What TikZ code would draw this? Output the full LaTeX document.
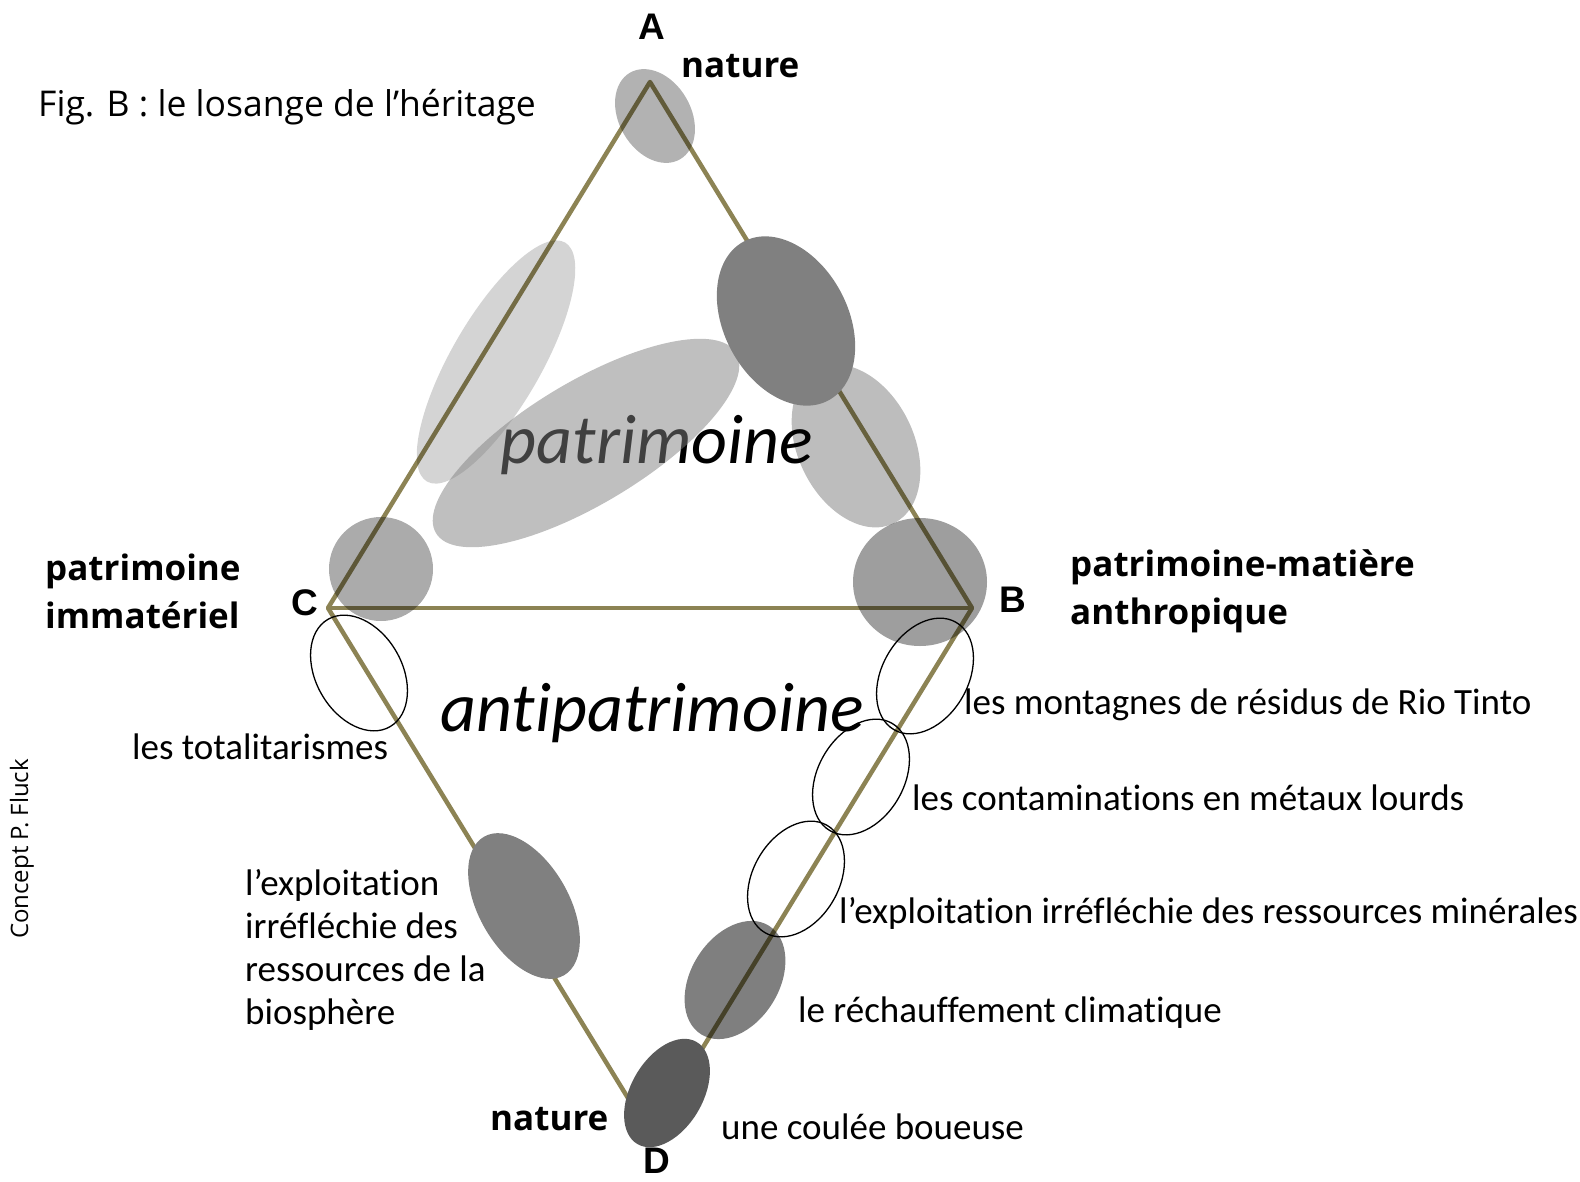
\documentclass[tikz,border=0pt]{standalone}
\usepackage{fontspec}
\setmainfont{Carlito}[Ligatures={NoCommon}]
\newfontfamily\captionfont{Open Sans}
\newfontfamily\cornerfont{Liberation Sans}
\usetikzlibrary{positioning}
\definecolor{Olive}{HTML}{8C8354}
\definecolor{Shade}{HTML}{808080}
\definecolor{DeepShade}{HTML}{5A5A5A}
\tikzset{
  side/.style={line width=4.5pt, draw=Olive, line join=round},
  blob/.style={draw=none, fill=black, fill opacity=#1},
  ring/.style={draw=black, line width=1.3pt},
  corner/.style={font=\cornerfont\bfseries\fontsize{37}{40}\selectfont, inner sep=0pt},
  pole/.style={font=\captionfont\bfseries\fontsize{35}{48}\selectfont, align=left, inner sep=0pt},
  note/.style={font=\fontsize{37}{43}\selectfont, align=left, inner sep=0pt},
  bigword/.style={font=\itshape\fontsize{70}{80}\selectfont, inner sep=0pt},
  credit/.style={font=\captionfont\fontsize{#1}{#1}\selectfont, inner sep=0pt}
}

\begin{document}
\begin{tikzpicture}[x=1pt,y=1pt]
  \useasboundingbox (0,0) rectangle (1580,-1181);
  \coordinate (A) at (650,-82);
  \coordinate (B) at (972,-608);
  \coordinate (C) at (328,-608);
  \coordinate (D) at (650,-1134);
  \draw[side] (A) -- (B) -- (D) -- (C) -- cycle;
  \draw[side] (C) -- (B);

  \node[bigword] (patr) at (657,-445) {patrimoine};
  \node[bigword] (anti) at (652,-713) {antipatrimoine};

  % le losange, partie haute
  \fill[blob=0.17] (496,-362) ellipse [x radius=138, y radius=45, rotate=60];
  \fill[blob=0.5, fill=gray] (586,-443) ellipse [x radius=175, y radius=61, rotate=31];
  \fill[blob=0.3] (655,-116) ellipse [x radius=50, y radius=36, rotate=-60];
  \fill[blob=0.26] (856,-446) ellipse [x radius=86, y radius=58, rotate=-64];
  \fill[blob=1, fill=Shade] (786,-321) ellipse [x radius=90, y radius=62, rotate=-62];
  \fill[blob=0.33] (381,-569) circle [radius=52];
  \fill[blob=0.38] (920,-582) ellipse [x radius=67, y radius=64];

  % partie basse
  \fill[blob=1, fill=Shade] (524,-906) ellipse [x radius=80, y radius=45, rotate=-60];
  \fill[blob=0.5] (735,-980) ellipse [x radius=64, y radius=44, rotate=58];
  \fill[blob=1, fill=DeepShade] (667,-1093) ellipse [x radius=59, y radius=36, rotate=60];
  \draw[ring] (359,-673) ellipse [x radius=62, y radius=43, rotate=-60];
  \draw[ring] (925,-676) ellipse [x radius=62, y radius=43, rotate=60];
  \draw[ring] (861,-777) ellipse [x radius=62, y radius=43, rotate=60];
  \draw[ring] (796,-879) ellipse [x radius=62, y radius=43, rotate=60];

  \node[corner] (lA) at (652,-27) {A};
  \node[corner] (lB) at (1013,-600) {B};
  \node[corner] (lC) at (305,-603) {C};
  \node[corner] (lD) at (657,-1161) {D};

  \node[pole, anchor=west] (natA) at (681,-66) {nature};
  \node[pole, anchor=west] (natD) at (490,-1119) {nature};
  \node[pole, anchor=west] (immat) at (45,-591) {patrimoine\\immatériel};
  \node[pole, anchor=west] (anthro) at (1070,-591) {patrimoine-matière\\anthropique};

  \node[note, anchor=west] (total) at (132,-747) {les totalitarismes};
  \node[note, anchor=west] (bio) at (245,-950) {l’exploitation\\irréfléchie des\\ressources de la\\biosphère};
  \node[note, anchor=west] (rio) at (964,-705) {les montagnes de résidus de Rio Tinto};
  \node[note, anchor=west] (metal) at (912,-798) {les contaminations en métaux lourds};
  \node[note, anchor=west] (miner) at (839,-913) {l’exploitation irréfléchie des ressources minérales};
  \node[note, anchor=west] (climat) at (798,-1013) {le réchauffement climatique};
  \node[note, anchor=west] (boue) at (721,-1127) {une coulée boueuse};

  \node[credit=35.5, anchor=west] (title) at (38,-107) {Fig. B : le losange de l’héritage};
  \node[credit=24, rotate=90] (concept) at (22,-849) {Concept P. Fluck};
\end{tikzpicture}
\end{document}
